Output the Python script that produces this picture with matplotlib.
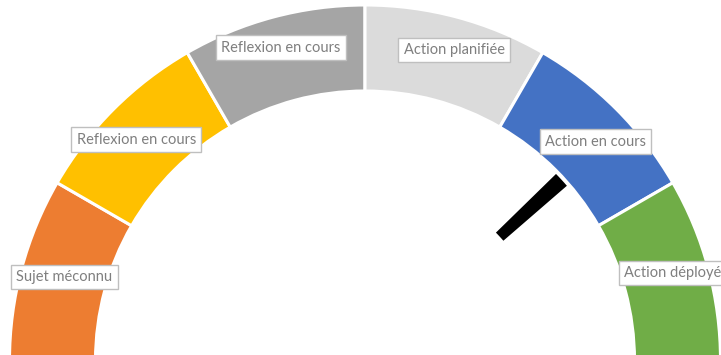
import numpy as np
import matplotlib
matplotlib.use("Agg")
import matplotlib.pyplot as plt

# gauge segments (left to right)
labels = ["Sujet méconnu", "Reflexion en cours", "Reflexion en cours",
          "Action planifiée", "Action en cours", "Action déployée"]
segments = [1, 1, 1, 1, 1, 1]
colors = ["#ED7D31", "#FFC000", "#A5A5A5", "#DBDBDB", "#4472C4", "#70AD47"]

# needle position on the 0..6 scale
needle_value = 4.58
needle_width = 0.115

plt.rcParams['font.family'] = ['Lato', 'DejaVu Sans']

fig = plt.figure(figsize=(7.21, 3.55), dpi=100)
ax = fig.add_axes([0, 0, 1, 1])

cx, cy = 365, -5.5
r_out, r_in = 355.5, 269.5

total = sum(segments)
wedges, _ = ax.pie(segments + [total], colors=colors + ["white"],
                   startangle=180, counterclock=False,
                   center=(cx, cy), radius=r_out,
                   wedgeprops=dict(width=r_out - r_in, edgecolor="white",
                                   linewidth=2.2))
wedges[-1].set_visible(False)

# needle as a thin ring slice
nv = [needle_value - needle_width / 2, needle_width,
      2 * total - needle_value - needle_width / 2]
nw, _ = ax.pie(nv, colors=["none", "black", "none"],
               startangle=180, counterclock=False,
               center=(cx, cy), radius=267,
               wedgeprops=dict(width=84, edgecolor="none", linewidth=0))
nw[0].set_visible(False)
nw[2].set_visible(False)

# data labels
label_r = [312, 318, 324, 323, 318, 312]
label_shift = [-0.5, 1, 0, -1, -1.5, 0]
acc = 0
for lab, v, lr, sh in zip(labels, segments, label_r, label_shift):
    mid = np.deg2rad(180 - (acc + v / 2) / total * 180 + sh)
    acc += v
    x = cx + lr * np.cos(mid)
    y = cy + lr * np.sin(mid)
    ha = "center"
    if lab == "Action déployée":
        x, ha = 624, "left"
        y = 355 - 273
    ax.text(x, y, lab, ha=ha, va="center", fontsize=10.5, color="#7F7F7F",
            bbox=dict(boxstyle="square,pad=0.35", fc="white", ec="#BFBFBF",
                      lw=1))

ax.set_xlim(0, 721)
ax.set_ylim(0, 355)
ax.set_aspect("auto")
ax.axis("off")

fig.savefig("out.png", dpi=100)
